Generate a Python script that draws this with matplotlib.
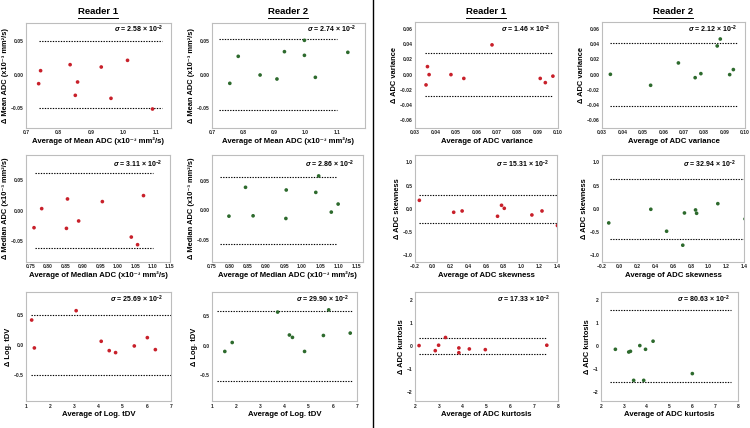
import matplotlib
matplotlib.use('Agg')
import matplotlib.pyplot as plt
from matplotlib.lines import Line2D

plt.rcParams['font.family'] = ['Liberation Sans', 'DejaVu Sans']
plt.rcParams['mathtext.fontset'] = 'custom'
plt.rcParams['mathtext.rm'] = 'Liberation Sans:bold'
plt.rcParams['mathtext.bf'] = 'Liberation Sans:bold'
plt.rcParams['mathtext.it'] = 'Liberation Sans:bold:italic'

W, H = 750, 428
RED = '#c8202a'
GREEN = '#2d6a2d'

# ---------------- data ----------------
titles = ['Reader 1', 'Reader 2', 'Reader 1', 'Reader 2']

# Mean ADC
mean_r1_x = [0.739, 0.745, 0.836, 0.859, 0.852, 0.932, 0.962, 1.013, 1.090]
mean_r1_y = [-0.0135, 0.006, 0.015, -0.011, -0.031, 0.0115, -0.0355, 0.0215, -0.0515]
mean_r2_x = [0.757, 0.784, 0.854, 0.908, 0.932, 0.996, 0.996, 1.031, 1.135]
mean_r2_y = [-0.013, 0.0275, -0.0005, -0.0065, 0.0345, 0.0515, 0.029, -0.004, 0.0335]
# Median ADC
med_r1_x = [0.760, 0.782, 0.856, 0.853, 0.888, 0.956, 1.039, 1.057, 1.074]
med_r1_y = [-0.0279, 0.0033, 0.0191, -0.029, -0.0169, 0.0148, -0.0432, -0.0557, 0.0246]
med_r2_x = [0.797, 0.843, 0.864, 0.956, 0.955, 1.038, 1.046, 1.081, 1.100]
med_r2_y = [-0.0096, 0.0388, -0.009, 0.0343, -0.0135, 0.0303, 0.0579, -0.0028, 0.0107]
# Log tDV
tdv_r1_x = [1.235, 1.346, 3.075, 4.112, 4.444, 4.707, 5.481, 6.021, 6.353]
tdv_r1_y = [0.422, -0.044, 0.578, 0.067, -0.089, -0.122, -0.011, 0.128, -0.072]
tdv_r2_x = [1.53, 1.836, 3.716, 4.203, 4.329, 4.83, 5.61, 5.83, 6.72]
tdv_r2_y = [-0.098, 0.052, 0.563, 0.178, 0.138, -0.098, 0.17, 0.6, 0.21]
# ADC variance
var_r1_x = [0.0354, 0.0361, 0.0369, 0.0476, 0.0539, 0.0677, 0.0913, 0.0938, 0.0975]
var_r1_y = [-0.0135, 0.0105, 0.000, 0.000, -0.005, 0.039, -0.005, -0.0105, -0.002]
var_r2_x = [0.0341, 0.0538, 0.0674, 0.0756, 0.0784, 0.0864, 0.0879, 0.0925, 0.0943]
var_r2_y = [0.0004, -0.014, 0.0153, -0.004, 0.0013, 0.0376, 0.0467, 0.000, 0.0066]
# ADC skewness
skew_r1_x = [-0.151, 0.236, 0.331, 0.730, 0.775, 0.806, 1.117, 1.231, 1.405]
skew_r1_y = [0.186, -0.071, -0.043, -0.157, 0.079, 0.014, -0.129, -0.043, -0.357]
skew_r2_x = [-0.124, 0.350, 0.528, 0.710, 0.729, 0.854, 0.866, 1.105, 1.412]
skew_r2_y = [-0.3, -0.007, -0.479, -0.779, -0.086, -0.021, -0.093, 0.114, -0.214]
# ADC kurtosis
kurt_r1_x = [2.17, 2.85, 2.99, 3.28, 3.84, 3.84, 4.28, 4.95, 7.53]
kurt_r1_y = [0.015, -0.206, 0.03, 0.368, -0.088, -0.294, -0.132, -0.162, 0.03]
kurt_r2_x = [2.63, 3.215, 3.29, 3.43, 3.70, 3.87, 3.95, 4.28, 6.0]
kurt_r2_y = [-0.147, -0.265, -0.235, -1.5, 0.015, -1.5, -0.147, 0.206, -1.206]

# sigma (x 10^-2) of each panel
sigmas = [2.58, 2.74, 1.46, 2.12,
          3.11, 2.86, 15.31, 32.94,
          25.69, 29.90, 17.33, 80.63]

mean_label = 'Mean ADC (x10\u207b\u00b3 mm\u00b2/s)'
med_label = 'Median ADC (x10\u207b\u00b3 mm\u00b2/s)'

panels = [
    # x, y, colour, ylabel, xlabel, xlim, ylim, xticks, yticks, line x-extent
    (mean_r1_x, mean_r1_y, RED, '\u0394 ' + mean_label, 'Average of ' + mean_label,
     (0.7, 1.147), (-0.08, 0.0775), [0.7, 0.8, 0.9, 1.0, 1.1], [-0.05, 0.0, 0.05], (0.741, 1.12)),
    (mean_r2_x, mean_r2_y, GREEN, '\u0394 ' + mean_label, 'Average of ' + mean_label,
     (0.7, 1.19), (-0.08, 0.0775), [0.7, 0.8, 0.9, 1.0, 1.1], [-0.05, 0.0, 0.05], (0.723, 1.101)),
    (var_r1_x, var_r1_y, RED, '\u0394 ADC variance', 'Average of ADC variance',
     (0.03, 0.10), (-0.07, 0.069), [0.03, 0.04, 0.05, 0.06, 0.07, 0.08, 0.09, 0.10],
     [-0.06, -0.04, -0.02, 0.0, 0.02, 0.04, 0.06], (0.0349, 0.0975)),
    (var_r2_x, var_r2_y, GREEN, '\u0394 ADC variance', 'Average of ADC variance',
     (0.03, 0.10), (-0.07, 0.069), [0.03, 0.04, 0.05, 0.06, 0.07, 0.08, 0.09, 0.10],
     [-0.06, -0.04, -0.02, 0.0, 0.02, 0.04, 0.06], (0.0338, 0.0964)),
    (med_r1_x, med_r1_y, RED, '\u0394 ' + med_label, 'Average of ' + med_label,
     (0.737, 1.148), (-0.084, 0.091), [0.75, 0.80, 0.85, 0.90, 0.95, 1.00, 1.05, 1.10, 1.15],
     [-0.05, 0.0, 0.05], (0.762, 1.10)),
    (med_r2_x, med_r2_y, GREEN, '\u0394 ' + med_label, 'Average of ' + med_label,
     (0.75, 1.169), (-0.0865, 0.093), [0.75, 0.80, 0.85, 0.90, 0.95, 1.00, 1.05, 1.10, 1.15],
     [-0.05, 0.0, 0.05], (0.771, 1.097)),
    (skew_r1_x, skew_r1_y, RED, '\u0394 ADC skewness', 'Average of ADC skewness',
     (-0.2, 1.4), (-1.14, 1.16), [-0.2, 0.0, 0.2, 0.4, 0.6, 0.8, 1.0, 1.2, 1.4],
     [-1.0, -0.5, 0.0, 0.5, 1.0], (-0.15, 1.41)),
    (skew_r2_x, skew_r2_y, GREEN, '\u0394 ADC skewness', 'Average of ADC skewness',
     (-0.2, 1.4), (-1.14, 1.16), [-0.2, 0.0, 0.2, 0.4, 0.6, 0.8, 1.0, 1.2, 1.4],
     [-1.0, -0.5, 0.0, 0.5, 1.0], (-0.113, 1.41)),
    (tdv_r1_x, tdv_r1_y, RED, '\u0394 Log. tDV', 'Average of Log. tDV',
     (1, 7), (-0.93, 0.89), [1, 2, 3, 4, 5, 6, 7], [-0.5, 0.0, 0.5], (1.2, 7.0)),
    (tdv_r2_x, tdv_r2_y, GREEN, '\u0394 Log. tDV', 'Average of Log. tDV',
     (1, 7), (-0.93, 0.9), [1, 2, 3, 4, 5, 6, 7], [-0.5, 0.0, 0.5], (1.2, 6.8)),
    (kurt_r1_x, kurt_r1_y, RED, '\u0394 ADC kurtosis', 'Average of ADC kurtosis',
     (2, 8), (-2.4, 2.35), [2, 3, 4, 5, 6, 7, 8], [-2, -1, 0, 1, 2], (2.18, 7.53)),
    (kurt_r2_x, kurt_r2_y, GREEN, '\u0394 ADC kurtosis', 'Average of ADC kurtosis',
     (2, 8), (-2.4, 2.35), [2, 3, 4, 5, 6, 7, 8], [-2, -1, 0, 1, 2], (2.38, 7.68)),
]

# axes boxes in pixels: left, top, right, bottom
boxes = [
    (26, 23, 171, 128), (212, 23, 365, 128), (415, 22, 558, 128), (602, 22, 745, 128),
    (26, 155, 170, 262), (212, 155, 363, 262), (415, 155, 557, 262), (602, 155, 744, 262),
    (26, 292, 171, 401), (212, 292, 357, 401), (415, 292, 558, 401), (601, 292, 738, 401),
]
sigma_text_y = [0.935, 0.935, 0.935, 0.935,
                0.91, 0.91, 0.91, 0.91,
                0.935, 0.935, 0.935, 0.935]

fig = plt.figure(figsize=(W / 100, H / 100), dpi=100)

axes = []
for i, (p, b) in enumerate(zip(panels, boxes)):
    x, y, c, ylab, xlab, xl, yl, xt, yt, lx = p
    l, t, r, bt = b
    ax = fig.add_axes([l / W, 1 - bt / H, (r - l) / W, (bt - t) / H])
    axes.append(ax)
    ax.scatter(x, y, s=7, color=c, edgecolors='none', zorder=3)
    loa = 1.96 * sigmas[i] / 100.0
    for yy in (loa, -loa):
        ax.plot(lx, [yy, yy], color='black', lw=0.8, ls=(0, (1.2, 1.2)), zorder=2)
    ax.set_xlim(*xl)
    ax.set_ylim(*yl)
    ax.set_xticks(xt)
    ax.set_yticks(yt)
    ax.tick_params(length=0, labelsize=3.6, pad=1.8, colors='#222222')
    for lab in ax.get_xticklabels() + ax.get_yticklabels():
        lab.set_fontweight('bold')
    for s in ax.spines.values():
        s.set_color('#bdbdbd')
        s.set_linewidth(0.8)
    ax.set_xlabel(xlab, fontsize=5.6, fontweight='bold', labelpad=1.5)
    ax.set_ylabel(ylab, fontsize=5.4, fontweight='bold', labelpad=1.2)
    ax.text(0.945, sigma_text_y[i], r'$\mathit{\sigma}$ = %.2f $\times$ 10$^{-2}$' % sigmas[i],
            transform=ax.transAxes, ha='right', va='center', fontsize=5.0, fontweight='bold')

# titles with underline
fig.canvas.draw()
renderer = fig.canvas.get_renderer()
title_x = [98, 288, 486, 673]
for tx, tt in zip(title_x, titles):
    txt = fig.text(tx / W, 1 - 12 / H, tt, ha='center', va='center', fontsize=6.8,
                   fontweight='bold')
    bb = txt.get_window_extent(renderer=renderer)
    x0, x1 = bb.x0 / W, bb.x1 / W
    yline = (bb.y0 - 1) / H
    fig.add_artist(Line2D([x0, x1], [yline, yline], color='black', lw=0.7))

# vertical divider
fig.add_artist(Line2D([373 / W, 373 / W], [0, 1], color='black', lw=1.0))

fig.savefig('out.png', dpi=100)
